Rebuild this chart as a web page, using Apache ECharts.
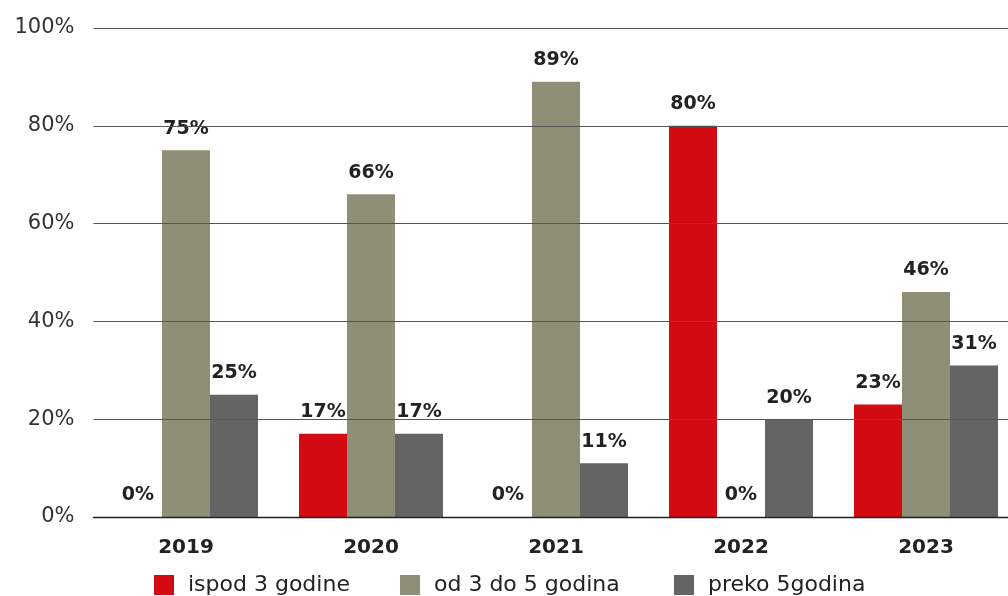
<!DOCTYPE html>
<html><head><meta charset="utf-8">
<script src="https://cdn.jsdelivr.net/npm/echarts@6/dist/echarts.min.js"></script>
<style>html,body{margin:0;padding:0;background:#fff;overflow:hidden;width:1008px;height:596px}#c{width:1030px;height:596px}</style>
</head><body><div id="c"></div>
<script>
const categories = ['2019','2020','2021','2022','2023'];
const seriesNames = ['ispod 3 godine','od 3 do 5 godina','preko 5godina'];
const under3 = [0, 17, 0, 80, 23];
const from3to5 = [75, 66, 89, 0, 46];
const over5 = [25, 17, 11, 20, 31];
const yTicks = [0, 20, 40, 60, 80, 100];
const colors = ['#d20a11', '#8f8f77', '#646464'];
const FONT = 'DejaVu Sans';
const legendLefts = [154, 400, 674];

const chart = echarts.init(document.getElementById('c'));
const label = {
  show: true, position: 'top', distance: 12,
  formatter: p => p.value + '%',
  fontFamily: FONT, fontWeight: 'bold', fontSize: 19, color: '#222'
};
const mk = (name, data, i) => ({
  name, type: 'bar', data, barWidth: 48, barGap: '0%',
  itemStyle: { color: colors[i] }, label, z: 2
});
chart.setOption({
  animation: false,
  grid: { left: 93.5, top: 28, width: 925, bottom: 79, containLabel: false },
  legend: seriesNames.map((n, i) => ({
    top: 574, left: legendLefts[i], itemWidth: 20, itemHeight: 20, padding: 0,
    icon: 'rect', selectedMode: false,
    textStyle: { fontFamily: FONT, fontSize: 22, color: '#222', padding: [0,0,0,9] },
    data: [n]
  })),
  xAxis: {
    type: 'category', data: categories, z: 6,
    axisLine: { lineStyle: { color: '#222', width: 1.3 } },
    axisTick: { show: false },
    axisLabel: { fontFamily: FONT, fontWeight: 'bold', fontSize: 20, color: '#222', margin: 21 }
  },
  yAxis: {
    type: 'value', min: yTicks[0], max: yTicks[yTicks.length-1], interval: 20, z: 5,
    axisLine: { show: false }, axisTick: { show: false },
    axisLabel: { fontFamily: FONT, fontSize: 21, color: '#333', margin: 19, formatter: v => v + '%' },
    splitLine: { lineStyle: { color: '#555', width: 1 } }
  },
  series: [mk(seriesNames[0], under3, 0), mk(seriesNames[1], from3to5, 1), mk(seriesNames[2], over5, 2)]
});
</script></body></html>
